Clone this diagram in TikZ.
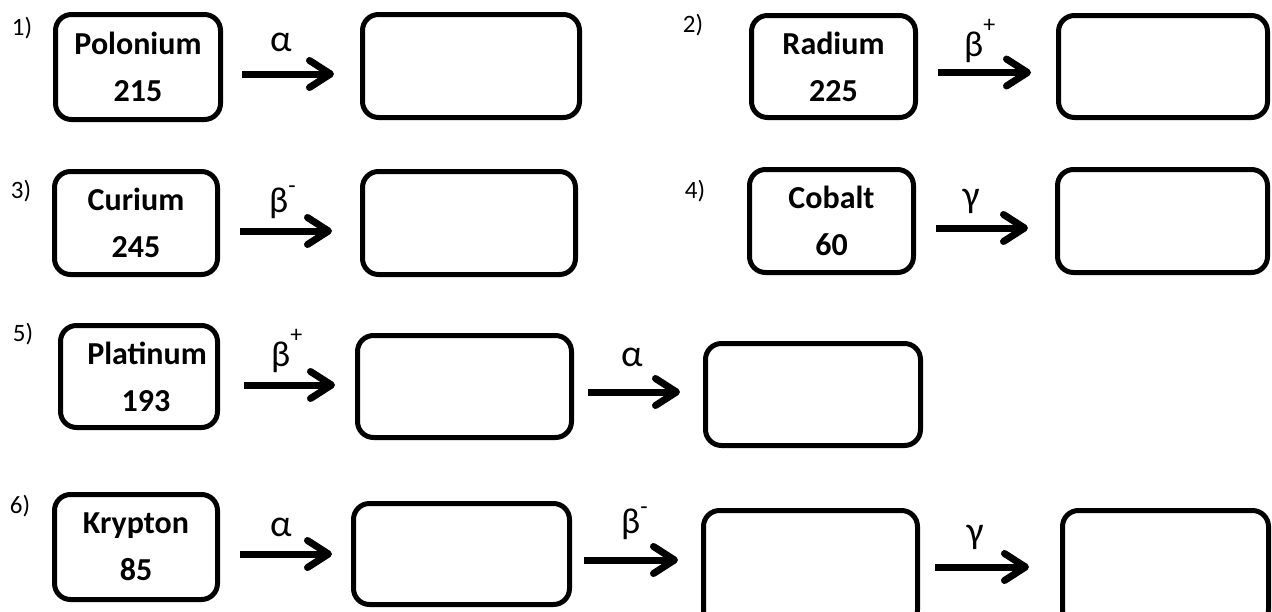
\documentclass[tikz,border=0pt]{standalone}
\usepackage{fontspec}
\setmainfont{Carlito}
\usetikzlibrary{arrows.meta}
\newcommand{\supplus}{\raisebox{24pt}{\fontsize{24}{24}\selectfont +}}
\newcommand{\supminus}{\raisebox{19pt}{\fontsize{24}{24}\selectfont -}}
\tikzset{
  box/.style={draw, line width=5pt, rounded corners=16pt, inner sep=0pt, align=center,
    font=\bfseries\fontsize{32}{47}\selectfont},
  arr/.style={line width=7pt, -{Straight Barb[length=21pt,width=27pt,round]}},
  lbl/.style={font=\fontsize{38}{40}\selectfont, inner sep=0pt},
  blbl/.style={font=\fontsize{36}{40}\selectfont, inner sep=0pt, anchor=base west},
  num/.style={font=\fontsize{25}{28}\selectfont, inner sep=0pt}
}
\begin{document}
\begin{tikzpicture}[x=1pt,y=-1pt]
\useasboundingbox (0,0) rectangle (1272,611);
\clip (0,0) rectangle (1272,611);
% numbers
\node[num] (n1) at (22,28) {1)};
\node[num] (n2) at (693,25) {2)};
\node[num] (n3) at (21,191) {3)};
\node[num] (n4) at (695,191) {4)};
\node[num] (n5) at (23,334) {5)};
\node[num] (n6) at (20,506) {6)};
% boxes
\node[box, minimum width=165pt, minimum height=105pt] (po) at (138,67) {Polonium\\215};
\node[box, minimum width=217pt, minimum height=103pt] (e1) at (471,66) {};
\node[box, minimum width=164pt, minimum height=102pt] (ra) at (833.5,66.5) {Radium\\225};
\node[box, minimum width=209pt, minimum height=102pt] (e2) at (1163,66.5) {};
\node[box, minimum width=163pt, minimum height=103pt] (cm) at (136,223) {Curium\\245};
\node[box, minimum width=213pt, minimum height=103pt] (e3) at (469,223) {};
\node[box, minimum width=164pt, minimum height=103pt] (co) at (831.5,221) {Cobalt\\60};
\node[box, minimum width=210pt, minimum height=103pt] (e4) at (1162.5,221) {};
\node[box, minimum width=157pt, minimum height=102pt] (pt) at (139,376.5) {\hspace*{16pt}Platinum\\\hspace*{14pt}193};
\node[box, minimum width=214pt, minimum height=102pt] (e5) at (464.5,386.5) {};
\node[box, minimum width=215pt, minimum height=102pt] (e6) at (813,394.5) {};
\node[box, minimum width=163pt, minimum height=105pt] (kr) at (136,547) {Krypton\\85};
\node[box, minimum width=216pt, minimum height=101pt] (e7) at (461.5,554) {};
\node[box, minimum width=214pt, minimum height=115pt] (e8) at (810.5,568) {};
\node[box, minimum width=206pt, minimum height=115pt] (e9) at (1165.5,568) {};
% arrow end points
\coordinate (a1s) at (242,74);  \coordinate (a1e) at (334,74);
\coordinate (a2s) at (938,72.5);  \coordinate (a2e) at (1031,72.5);
\coordinate (a3s) at (240,231); \coordinate (a3e) at (332,231);
\coordinate (a4s) at (936,228); \coordinate (a4e) at (1028,228);
\coordinate (a5s) at (244,385); \coordinate (a5e) at (335,385);
\coordinate (a6s) at (588,392); \coordinate (a6e) at (680,392);
\coordinate (a7s) at (240,554); \coordinate (a7e) at (332,554);
\coordinate (a8s) at (584,560); \coordinate (a8e) at (678,560);
\coordinate (a9s) at (935,567); \coordinate (a9e) at (1029,567);
\draw[arr] (a1s) -- (a1e);
\draw[arr] (a2s) -- (a2e);
\draw[arr] (a3s) -- (a3e);
\draw[arr] (a4s) -- (a4e);
\draw[arr] (a5s) -- (a5e);
\draw[arr] (a6s) -- (a6e);
\draw[arr] (a7s) -- (a7e);
\draw[arr] (a8s) -- (a8e);
\draw[arr] (a9s) -- (a9e);
% labels
\node[lbl] (l1) at (281,42) {α};
\node[blbl] (l2) at (964,56) {β\supplus};
\node[blbl] (l3) at (269,212) {β\supminus};
\node[lbl] (l4) at (971,201) {γ};
\node[blbl] (l5) at (271,366) {β\supplus};
\node[lbl] (l6) at (632,357) {α};
\node[lbl] (l7) at (281,527) {α};
\node[blbl] (l8) at (621,533) {β\supminus};
\node[lbl] (l9) at (975,537) {γ};
\end{tikzpicture}
\end{document}
